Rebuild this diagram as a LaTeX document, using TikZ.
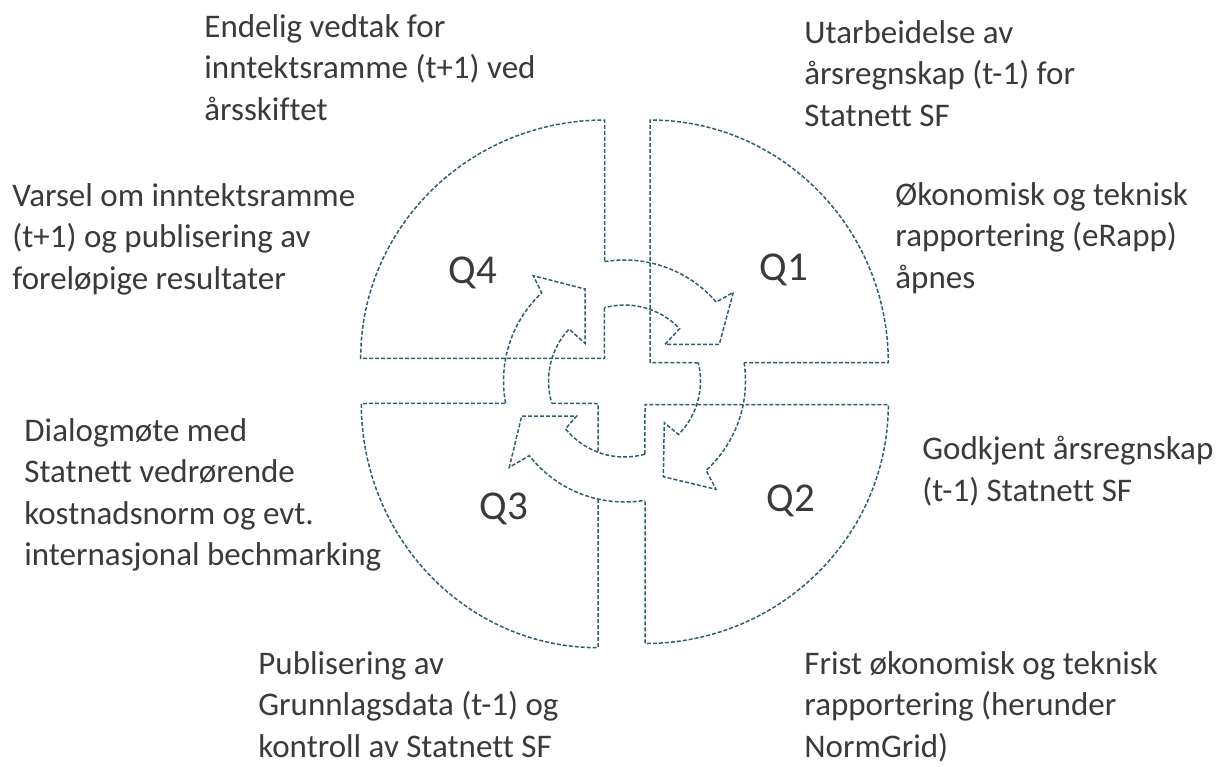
\documentclass[tikz,border=0pt]{standalone}
\usepackage{fontspec}
\setmainfont{Carlito}[Ligatures=NoCommon]
\usetikzlibrary{calc}
\definecolor{ringteal}{RGB}{46,96,108}
\definecolor{notegray}{RGB}{58,58,58}

\tikzset{
  slice/.style={draw=ringteal, line width=0.75pt, dash pattern=on 2pt off 1pt},
  note/.style={anchor=north west, inner sep=0pt, align=left, text=notegray,
               font=\fontsize{16.5}{20.75}\selectfont},
  qlabel/.style={inner sep=0pt, text=notegray, font=\fontsize{20.5}{24}\selectfont}
}

\begin{document}
\begin{tikzpicture}[x=0.5pt, y=0.5pt]
  \useasboundingbox (0,0) rectangle (1224,-766);
  \coordinate (c) at (624.5,-381);
  % where the arrows leave the quarters
  \coordinate (a41o) at ($(c)+(99.5:121)$);
  \coordinate (a41i) at ($(c)+(105.4:76)$);
  \coordinate (a12o) at ($(c)+(8.7:121)$);
  \coordinate (a12i) at ($(c)+(13.9:76)$);
  \coordinate (a23o) at ($(c)+(-80.2:121)$);
  \coordinate (a23i) at ($(c)+(-74.4:76)$);
  \coordinate (a34o) at ($(c)+(190.6:121)$);
  \coordinate (a34i) at ($(c)+(197.1:76)$);

  % quarters
  \draw[slice] (a41i) -- (604.5,-358.3) -- (360.7,-358.3)
    arc[start angle=180, end angle=90, x radius=243.8, y radius=238.3] -- (a41o);
  \draw[slice] (a12i) -- (650,-362.7) -- (650,-120)
    arc[start angle=90, end angle=0, x radius=238.3, y radius=242.7] -- (a12o);
  \draw[slice] (a23i) -- (645,-404.5) -- (888.3,-404.5)
    arc[start angle=0, end angle=-90, x radius=243.3, y radius=239] -- (a23o);
  \draw[slice] (a34i) -- (598,-403.5) -- (598,-452.2);
  \draw[slice] (598,-499) -- (598,-647.7)
    arc[start angle=-90, end angle=-180, x radius=236.7, y radius=244.2] -- (a34o);

  % cycle arrows
  \draw[slice] (a41o) arc[start angle=99.5, end angle=40.7, radius=121]
    -- (733.3,-292.3) -- (719.3,-344.3) -- (665,-344.3)
    -- ($(c)+(43.5:76)$) arc[start angle=43.5, end angle=105.4, radius=76];
  \draw[slice] (a12o) arc[start angle=8.7, end angle=-47.6, radius=121]
    -- (716,-489.3) -- (663.3,-476.7) -- (664.3,-422.7)
    -- ($(c)+(-44.7:76)$) arc[start angle=-44.7, end angle=13.9, radius=76];
  \draw[slice] (a23i) arc[start angle=-74.4, end angle=-141, radius=76]
    -- (576.7,-416) -- (521.7,-416) -- (509.3,-467.3)
    -- ($(c)+(-141.9:121)$) arc[start angle=-141.9, end angle=-80.2, radius=121];
  \draw[slice] (a34o) arc[start angle=190.6, end angle=133.2, radius=121]
    -- (533.3,-275.7) -- (585,-289) -- (585,-343.3)
    -- ($(c)+(136.9:76)$) arc[start angle=136.9, end angle=197.1, radius=76];

  \foreach \q/\x/\y in {4/473/273, 1/784/270, 2/791/501, 3/504/509}
    \node[qlabel] (q\q) at (\x,-\y) {Q\q};

  \node[note] (vedtak) at (204,-14) {Endelig vedtak for\\inntektsramme (t+1) ved\\årsskiftet};
  \node[note] (utarb) at (804,-20) {Utarbeidelse av\\årsregnskap (t-1) for\\Statnett SF};
  \node[note] (varsel) at (12,-183) {Varsel om inntektsramme\\(t+1) og publisering av\\foreløpige resultater};
  \node[note] (erapp) at (895,-182) {Økonomisk og teknisk\\rapportering (eRapp)\\åpnes};
  \node[note] (dialog) at (24,-418) {Dialogmøte med\\Statnett vedrørende\\kostnadsnorm og evt.\\internasjonal bechmarking};
  \node[note] (godkjent) at (922,-436) {Godkjent årsregnskap\\(t-1) Statnett SF};
  \node[note] (grunnlag) at (258,-651) {Publisering av\\Grunnlagsdata (t-1) og\\kontroll av Statnett SF};
  \node[note] (frist) at (804,-651) {Frist økonomisk og teknisk\\rapportering (herunder\\NormGrid)};
\end{tikzpicture}
\end{document}
